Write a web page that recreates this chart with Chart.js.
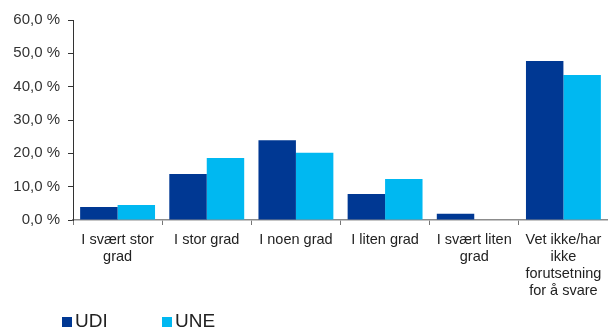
<!DOCTYPE html>
<html>
<head>
<meta charset="utf-8">
<script src="https://cdn.jsdelivr.net/npm/chart.js@4"></script>
<style>
  html, body { margin: 0; padding: 0; background: #fff; }
  #wrap { position: relative; width: 608px; height: 327px; overflow: hidden; }
  #legend { position: absolute; left: 62px; top: 310px; font: 19px "Liberation Sans", Arial, sans-serif; color: #222; }
  #legend span.item { position: absolute; white-space: nowrap; }
  #legend span.box { display: inline-block; width: 10px; height: 10px; margin-right: 3px; }
</style>
</head>
<body>
<div id="wrap">
  <canvas id="chart" width="608" height="327"></canvas>
  <div id="legend"></div>
</div>
<script>
// ========= DATA =========
const categories = [
    ['I svært stor', 'grad'],
    'I stor grad',
    'I noen grad',
    'I liten grad',
    ['I svært liten', 'grad'],
    ['Vet ikke/har', 'ikke', 'forutsetning', 'for å svare']
];
const seriesNames = ['UDI', 'UNE'];
const udiValues = [3.9, 13.8, 23.9, 7.8, 1.9, 47.7];
const uneValues = [4.5, 18.6, 20.2, 12.3, 0.0, 43.5];
const seriesColors = ['#003893', '#00b8f1'];

const fontFamily = '"Liberation Sans", Arial, sans-serif';

const chart = new Chart(document.getElementById('chart'), {
    type: 'bar',
    data: {
        labels: categories,
        datasets: [
            { label: seriesNames[0], data: udiValues, backgroundColor: seriesColors[0] },
            { label: seriesNames[1], data: uneValues, backgroundColor: seriesColors[1] }
        ]
    },
    options: {
        responsive: false,
        animation: false,
        datasets: {
            bar: { categoryPercentage: 0.84, barPercentage: 1.0 }
        },
        layout: { padding: { top: 20, right: 0, left: 0, bottom: 0 } },
        plugins: {
            legend: { display: false },
            tooltip: { enabled: false }
        },
        scales: {
            x: {
                grid: {
                    offset: true,
                    drawOnChartArea: false,
                    tickLength: 5,
                    color: '#777'
                },
                border: { color: '#8c8c8c', width: 1.5 },
                ticks: {
                    maxRotation: 0,
                    autoSkip: false,
                    padding: 7,
                    color: '#222',
                    font: { family: fontFamily, size: 14.5, lineHeight: 1.17 }
                },
                afterFit: scale => {
                    scale.height = 107;
                    scale.paddingLeft = 0;
                    scale.paddingRight = 0;
                }
            },
            y: {
                min: 0,
                max: 60,
                grid: {
                    drawOnChartArea: false,
                    tickLength: 5,
                    color: '#333'
                },
                border: { color: '#333', width: 1 },
                ticks: {
                    stepSize: 10,
                    padding: 8,
                    color: '#333',
                    font: { family: fontFamily, size: 15 },
                    callback: v => v.toFixed(1).replace('.', ',') + ' %'
                },
                afterFit: scale => { scale.width = 73; }
            }
        }
    }
});

// ========= LEGEND =========
const legend = document.getElementById('legend');
const legendOffsets = [0, 100];
chart.data.datasets.forEach((ds, i) => {
    const item = document.createElement('span');
    item.className = 'item';
    item.style.left = legendOffsets[i] + 'px';
    item.innerHTML = '<span class="box" style="background:' + ds.backgroundColor + '"></span>' + ds.label;
    legend.appendChild(item);
});
</script>
</body>
</html>
